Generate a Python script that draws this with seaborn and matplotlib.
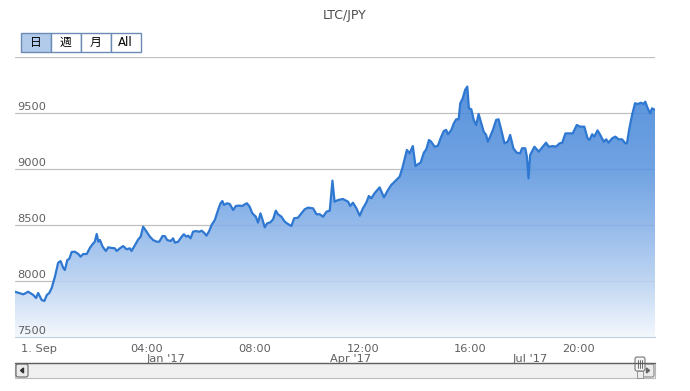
import numpy as np
import pandas as pd
import matplotlib
matplotlib.use("Agg")
import matplotlib.pyplot as plt
import matplotlib.transforms as mtransforms
from matplotlib.colors import LinearSegmentedColormap
from matplotlib.patches import Rectangle, FancyBboxPatch, Polygon
import seaborn as sns

# LTC/JPY price (x = hours on the axis)
hours = [-0.89, -0.58, -0.40, -0.21, -0.11, -0.03, 0.10, 0.20, 0.29, 0.38, 0.47, 0.59, 0.71, 0.80,
         0.90, 0.96, 1.05, 1.12, 1.21, 1.33, 1.46, 1.54, 1.64, 1.77, 1.89, 1.99, 2.07, 2.14, 2.20,
         2.26, 2.36, 2.48, 2.57, 2.69, 2.81, 2.88, 3.00, 3.12, 3.25, 3.37, 3.43, 3.56, 3.68, 3.77,
         3.86, 3.99, 4.11, 4.23, 4.36, 4.46, 4.58, 4.67, 4.75, 4.88, 4.97, 5.04, 5.16, 5.29, 5.37,
         5.47, 5.53, 5.62, 5.71, 5.81, 5.94, 6.03, 6.12, 6.21, 6.31, 6.40, 6.52, 6.64, 6.73, 6.80,
         6.86, 6.97, 7.07, 7.20, 7.30, 7.42, 7.54, 7.63, 7.71, 7.81, 7.91, 8.04, 8.12, 8.21, 8.29,
         8.37, 8.46, 8.58, 8.68, 8.78, 8.86, 8.99, 9.11, 9.23, 9.36, 9.46, 9.60, 9.73, 9.85, 9.97,
         10.16, 10.29, 10.41, 10.53, 10.66, 10.78, 10.88, 10.96, 11.09, 11.27, 11.46, 11.54, 11.64,
         11.77, 11.89, 12.01, 12.14, 12.23, 12.32, 12.44, 12.63, 12.79, 12.94, 13.06, 13.25, 13.37,
         13.47, 13.56, 13.64, 13.74, 13.86, 13.96, 14.05, 14.15, 14.27, 14.36, 14.46, 14.54, 14.67,
         14.79, 14.89, 15.01, 15.10, 15.16, 15.29, 15.38, 15.47, 15.56, 15.62, 15.71, 15.80, 15.88,
         15.94, 16.03, 16.12, 16.21, 16.30, 16.40, 16.49, 16.58, 16.64, 16.70, 16.83, 16.95, 17.04,
         17.14, 17.26, 17.38, 17.47, 17.59, 17.71, 17.84, 17.91, 18.03, 18.09, 18.15, 18.21, 18.37,
         18.53, 18.68, 18.80, 18.90, 19.05, 19.17, 19.30, 19.40, 19.52, 19.64, 19.79, 19.94, 20.06,
         20.22, 20.34, 20.41, 20.51, 20.59, 20.71, 20.81, 20.94, 21.03, 21.12, 21.25, 21.37, 21.49,
         21.62, 21.74, 21.80, 21.89, 21.99, 22.10, 22.20, 22.32, 22.41, 22.48, 22.57, 22.66, 22.73,
         22.84]
price = [7904, 7881, 7904, 7875, 7848, 7893, 7830, 7822, 7875, 7893, 7937, 8038, 8163, 8178,
         8116, 8098, 8188, 8196, 8259, 8262, 8241, 8217, 8241, 8241, 8297, 8330, 8351, 8420, 8351,
         8366, 8306, 8268, 8301, 8295, 8292, 8268, 8292, 8312, 8283, 8292, 8268, 8321, 8372, 8396,
         8485, 8440, 8396, 8366, 8351, 8351, 8402, 8400, 8366, 8357, 8381, 8342, 8351, 8396, 8417,
         8396, 8405, 8381, 8440, 8446, 8440, 8449, 8431, 8405, 8446, 8500, 8545, 8634, 8694, 8714,
         8679, 8694, 8688, 8634, 8670, 8673, 8670, 8685, 8694, 8664, 8604, 8574, 8521, 8604, 8545,
         8479, 8515, 8524, 8551, 8628, 8596, 8574, 8530, 8509, 8491, 8560, 8565, 8604, 8640, 8655,
         8649, 8596, 8596, 8574, 8619, 8628, 8896, 8708, 8723, 8732, 8708, 8670, 8699,
         8649, 8583, 8649, 8702, 8759, 8738, 8783, 8836, 8747, 8813, 8857, 8902, 8931,
         9006, 9095, 9170, 9140, 9205, 9027, 9042, 9057, 9146, 9176, 9259, 9244, 9199,
         9208, 9274, 9340, 9349, 9310, 9349, 9408, 9444, 9444, 9587, 9631, 9706, 9736,
         9542, 9533, 9438, 9393, 9491, 9408, 9333, 9304, 9244, 9274, 9349, 9438, 9444,
         9349, 9229, 9244, 9304, 9185, 9146, 9140, 9185, 9185, 9110, 8916, 9125, 9199,
         9155, 9199, 9235, 9199, 9205, 9199, 9229, 9235, 9318, 9318, 9318, 9393, 9378,
         9378, 9274, 9259, 9310, 9289, 9345, 9304, 9244, 9265, 9235, 9274, 9289, 9265,
         9265, 9229, 9229, 9363, 9482, 9587, 9580, 9592, 9580, 9601, 9542, 9497, 9542,
         9527]

tick_hours = [0, 4, 8, 12, 16, 20]
tick_labels = ["1. Sep", "04:00", "08:00", "12:00", "16:00", "20:00"]
month_hours = [4.0, 10.8, 17.55]
month_labels = ["Jan '17", "Apr '17", "Jul '17"]
y_grid = [7500, 8000, 8500, 9000, 9500, 10000]
y_labels = [7500, 8000, 8500, 9000, 9500]
buttons = ["日", "週", "月", "All"]

sns.set_style("white")
plt.rcParams["font.family"] = ["DejaVu Sans", "Noto Sans CJK JP"]

df = pd.DataFrame({"hour": hours, "price": price})
x0, x1 = df["hour"].min(), df["hour"].max()
y0, y1 = 7500, 10000

fig = plt.figure(figsize=(6.9, 3.91), dpi=100)
ax = fig.add_axes([15 / 690, 54 / 391, 640 / 690, 280 / 391])

# grid first, then the semi-opaque gradient area over it
for v in y_grid:
    ax.axhline(v, color="#c0c0c0", lw=0.9, zorder=0.5)

poly = ax.fill_between(df["hour"], df["price"], y0, color="none", lw=0)
cmap = LinearSegmentedColormap.from_list(
    "area", [(0, "#f3f7fd"), (0.2, "#b6d0f1"), (0.4, "#86b1e8"), (0.6, "#5c96df"), (1, "#3a7fd5")])
grad = np.linspace(0, 1, 256).reshape(-1, 1)
im = ax.imshow(grad, aspect="auto", cmap=cmap, origin="lower", alpha=0.88,
               extent=[x0, x1, y0, y1], zorder=1)
im.set_clip_path(poly.get_paths()[0], transform=ax.transData)

sns.lineplot(data=df, x="hour", y="price", ax=ax, color="#2f78d2",
             linewidth=1.6, estimator=None, zorder=3)

ax.set_xlim(x0, x1)
ax.set_ylim(y0, y1)
ax.set_xlabel("")
ax.set_ylabel("")
ax.set_yticks([])
ax.set_xticks(tick_hours, tick_labels)
ax.tick_params(axis="x", length=5, width=1, color="#c0d0e0", labelsize=8.2,
               labelcolor="#606060", pad=0, direction="out")
for s in ["top", "left", "right"]:
    ax.spines[s].set_visible(False)
ax.spines["bottom"].set_color("#c0d0e0")
ax.set_facecolor("white")

# y labels sit inside the plot, above each grid line
trans = mtransforms.blended_transform_factory(ax.transAxes, ax.transData)
for v in y_labels:
    ax.text(0.004, v + 10, str(v), transform=trans, ha="left", va="bottom",
            fontsize=8.2, color="#606060", zorder=4)

# second row of date labels
trans_x = mtransforms.blended_transform_factory(ax.transData, ax.transAxes)
for h, lab in zip(month_hours, month_labels):
    ax.text(h, -0.06, lab, transform=trans_x, ha="left", va="top",
            fontsize=8.2, color="#606060", clip_on=False)

# overlay in pixel units for title, buttons and scrollbar
ov2 = fig.add_axes([0, 0, 1, 1], zorder=5)
ov2.set_xlim(0, 690)
ov2.set_ylim(391, 0)
ov2.axis("off")
ov2.patch.set_alpha(0)

ov2.text(345, 15, "LTC/JPY", ha="center", va="center", fontsize=9, color="#4d4d4d")

bx, bw = 20.7, 30
for i, lab in enumerate(buttons):
    fc = "#b3cbeb" if i == 0 else "white"
    ov2.add_patch(Rectangle((bx + i * bw, 33), bw, 19, facecolor=fc,
                            edgecolor="#6b8bb5", lw=1))
    ov2.text(bx + i * bw + bw / 2, 42.5, lab, ha="center", va="center",
             fontsize=8.5, color="black")

# scrollbar
ov2.add_patch(Rectangle((15, 363), 640, 15, facecolor="#f0f0f0", edgecolor="#bbbbbb", lw=0.8))
ov2.plot([15, 655], [363, 363], color="#606060", lw=1)
ov2.add_patch(FancyBboxPatch((16, 364), 12, 13, boxstyle="round,pad=0,rounding_size=2",
                             facecolor="#ebebeb", edgecolor="#666666", lw=0.8))
ov2.add_patch(Polygon([[20.5, 370.5], [23.5, 368], [23.5, 373]], color="#333333"))
ov2.add_patch(FancyBboxPatch((641, 364), 13, 13, boxstyle="round,pad=0,rounding_size=2",
                             facecolor="#ebebeb", edgecolor="#888888", lw=0.8))
ov2.add_patch(Polygon([[649.5, 370.5], [646.5, 368], [646.5, 373]], color="#666666"))
ov2.add_patch(FancyBboxPatch((635, 357), 10, 14, boxstyle="round,pad=0,rounding_size=2",
                             facecolor="#f4f4f4", edgecolor="#777777", lw=0.8))
for gx in [638.2, 640, 641.8]:
    ov2.plot([gx, gx], [360, 368], color="#555555", lw=0.6)
ov2.add_patch(Rectangle((636.5, 371), 6, 7, facecolor="#eeeeee", edgecolor="#888888", lw=0.6))

fig.savefig("out.png", dpi=100)
